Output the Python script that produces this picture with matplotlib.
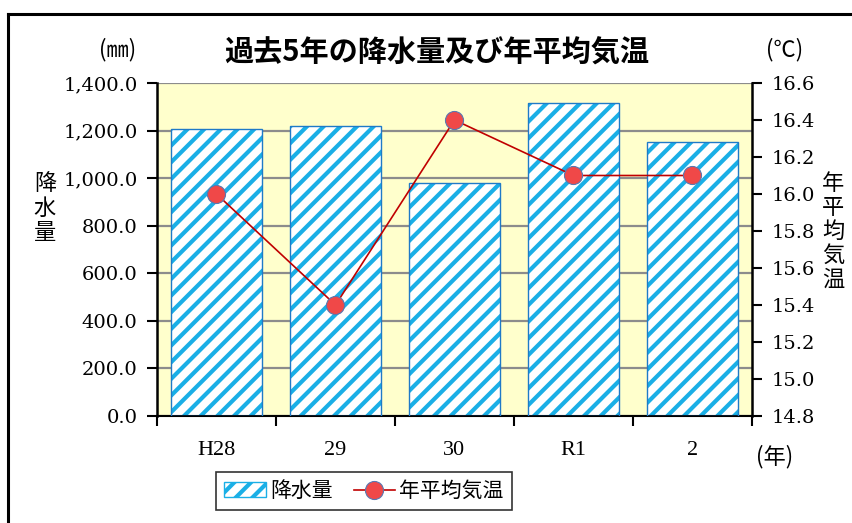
import matplotlib.pyplot as plt
import numpy as np
from matplotlib.patches import Rectangle
from matplotlib.lines import Line2D

years = ["H28", "29", "30", "R1", "2"]
rain_mm = [1206.0, 1219.0, 980.0, 1316.0, 1152.0]
temp_c = [16.0, 15.4, 16.4, 16.1, 16.1]
rain_ticks = np.arange(0, 1401, 200)
temp_ticks = np.arange(14.8, 16.61, 0.2)

JP = ["Noto Sans CJK JP", "DejaVu Sans"]
SERIF = ["DejaVu Serif", "Noto Sans CJK JP"]
XSERIF = ["Liberation Serif", "Noto Sans CJK JP"]
STRIPE = "#1AAFE6"
EDGE = "#1F7AC8"

plt.rcParams["hatch.linewidth"] = 3.0

fig = plt.figure(figsize=(8.53, 5.23), dpi=100)
ax = fig.add_axes([157 / 853, 1 - 416 / 523, 595 / 853, 333 / 523])
ax.set_facecolor("#FFFFCC")

x = np.arange(len(years))
ax.bar(x, rain_mm, width=0.77, color="white", edgecolor=STRIPE, hatch="//", linewidth=0, zorder=2)
ax.bar(x, rain_mm, width=0.77, fill=False, edgecolor=EDGE, linewidth=1.0, zorder=3)

ax.set_xlim(-0.5, len(years) - 0.5)
ax.set_ylim(0, 1400)
ax.set_yticks(rain_ticks)
ax.set_yticklabels([f"{v:,.1f}" for v in rain_ticks], family=SERIF, fontsize=14)
ax.yaxis.grid(True, color="#8C8C8C", linewidth=1.6, zorder=1)
ax.set_axisbelow(True)
ax.set_xticks(x)
ax.set_xticklabels(years, family=XSERIF, fontsize=16)
ax.tick_params(axis="x", length=0, pad=18)
ax.set_xticks(np.arange(-0.5, len(years)), minor=True)
ax.tick_params(axis="x", which="minor", length=7, width=1.5, direction="out")
ax.tick_params(axis="y", length=7, width=1.5, direction="out", pad=7)
for s in ["top", "right"]:
    ax.spines[s].set_visible(False)
ax.spines["left"].set_linewidth(1.8)
ax.spines["bottom"].set_linewidth(1.5)

ax2 = ax.twinx()
ax2.plot(x, temp_c, color="#C00000", linewidth=1.2, marker="o", markersize=13,
         markerfacecolor="#F04848", markeredgecolor="#5A78B0", markeredgewidth=0.8, zorder=5)
ax2.set_ylim(14.8, 16.6)
ax2.set_yticks(temp_ticks)
ax2.set_yticklabels([f"{v:.1f}" for v in temp_ticks], family=SERIF, fontsize=14)
ax2.tick_params(axis="y", length=7, width=1.5, direction="out", pad=7)
for s in ["top", "left", "bottom"]:
    ax2.spines[s].set_visible(False)
ax2.spines["right"].set_linewidth(1.8)

fig.text(437 / 853, 1 - 53 / 523, "過去5年の降水量及び年平均気温", family=JP, fontsize=21,
         fontweight="bold", ha="center", va="center")
fig.text(118 / 853, 1 - 50 / 523, "(㎜)", family=JP, fontsize=16, ha="center", va="center")
fig.text(785 / 853, 1 - 50 / 523, "(℃)", family=JP, fontsize=16, ha="center", va="center")
fig.text(775 / 853, 1 - 457 / 523, "(年)", family=JP, fontsize=16, ha="center", va="center")
fig.text(45 / 853, 1 - 208 / 523, "降\n水\n量", family=JP, fontsize=16, ha="center", va="center",
         linespacing=1.08)
fig.text(833 / 853, 1 - 231 / 523, "年\n平\n均\n気\n温", family=JP, fontsize=16, ha="center",
         va="center", linespacing=1.05)

handles = [Rectangle((0, 0), 1, 1, facecolor="white", edgecolor=STRIPE, hatch="//", linewidth=1.0),
           Line2D([], [], color="#C00000", linewidth=1.2, marker="o", markersize=13,
                  markerfacecolor="#F04848", markeredgecolor="#5A78B0", markeredgewidth=0.8)]
leg = fig.legend(handles, ["降水量", "年平均気温"], loc="center", bbox_to_anchor=(364 / 853, 1 - 491 / 523),
                 ncol=2, prop={"family": JP, "size": 15}, frameon=True, fancybox=False,
                 edgecolor="black", handlelength=2.0, columnspacing=1.0, handletextpad=0.2,
                 borderpad=0.4)
leg.get_frame().set_linewidth(1.2)

fig.add_artist(Line2D([8 / 853, 8 / 853], [0, 1 - 14 / 523], color="black", linewidth=2.2))
fig.add_artist(Line2D([8 / 853, 1], [1 - 14 / 523, 1 - 14 / 523], color="black", linewidth=2.2))

fig.savefig("out.png", dpi=100)
